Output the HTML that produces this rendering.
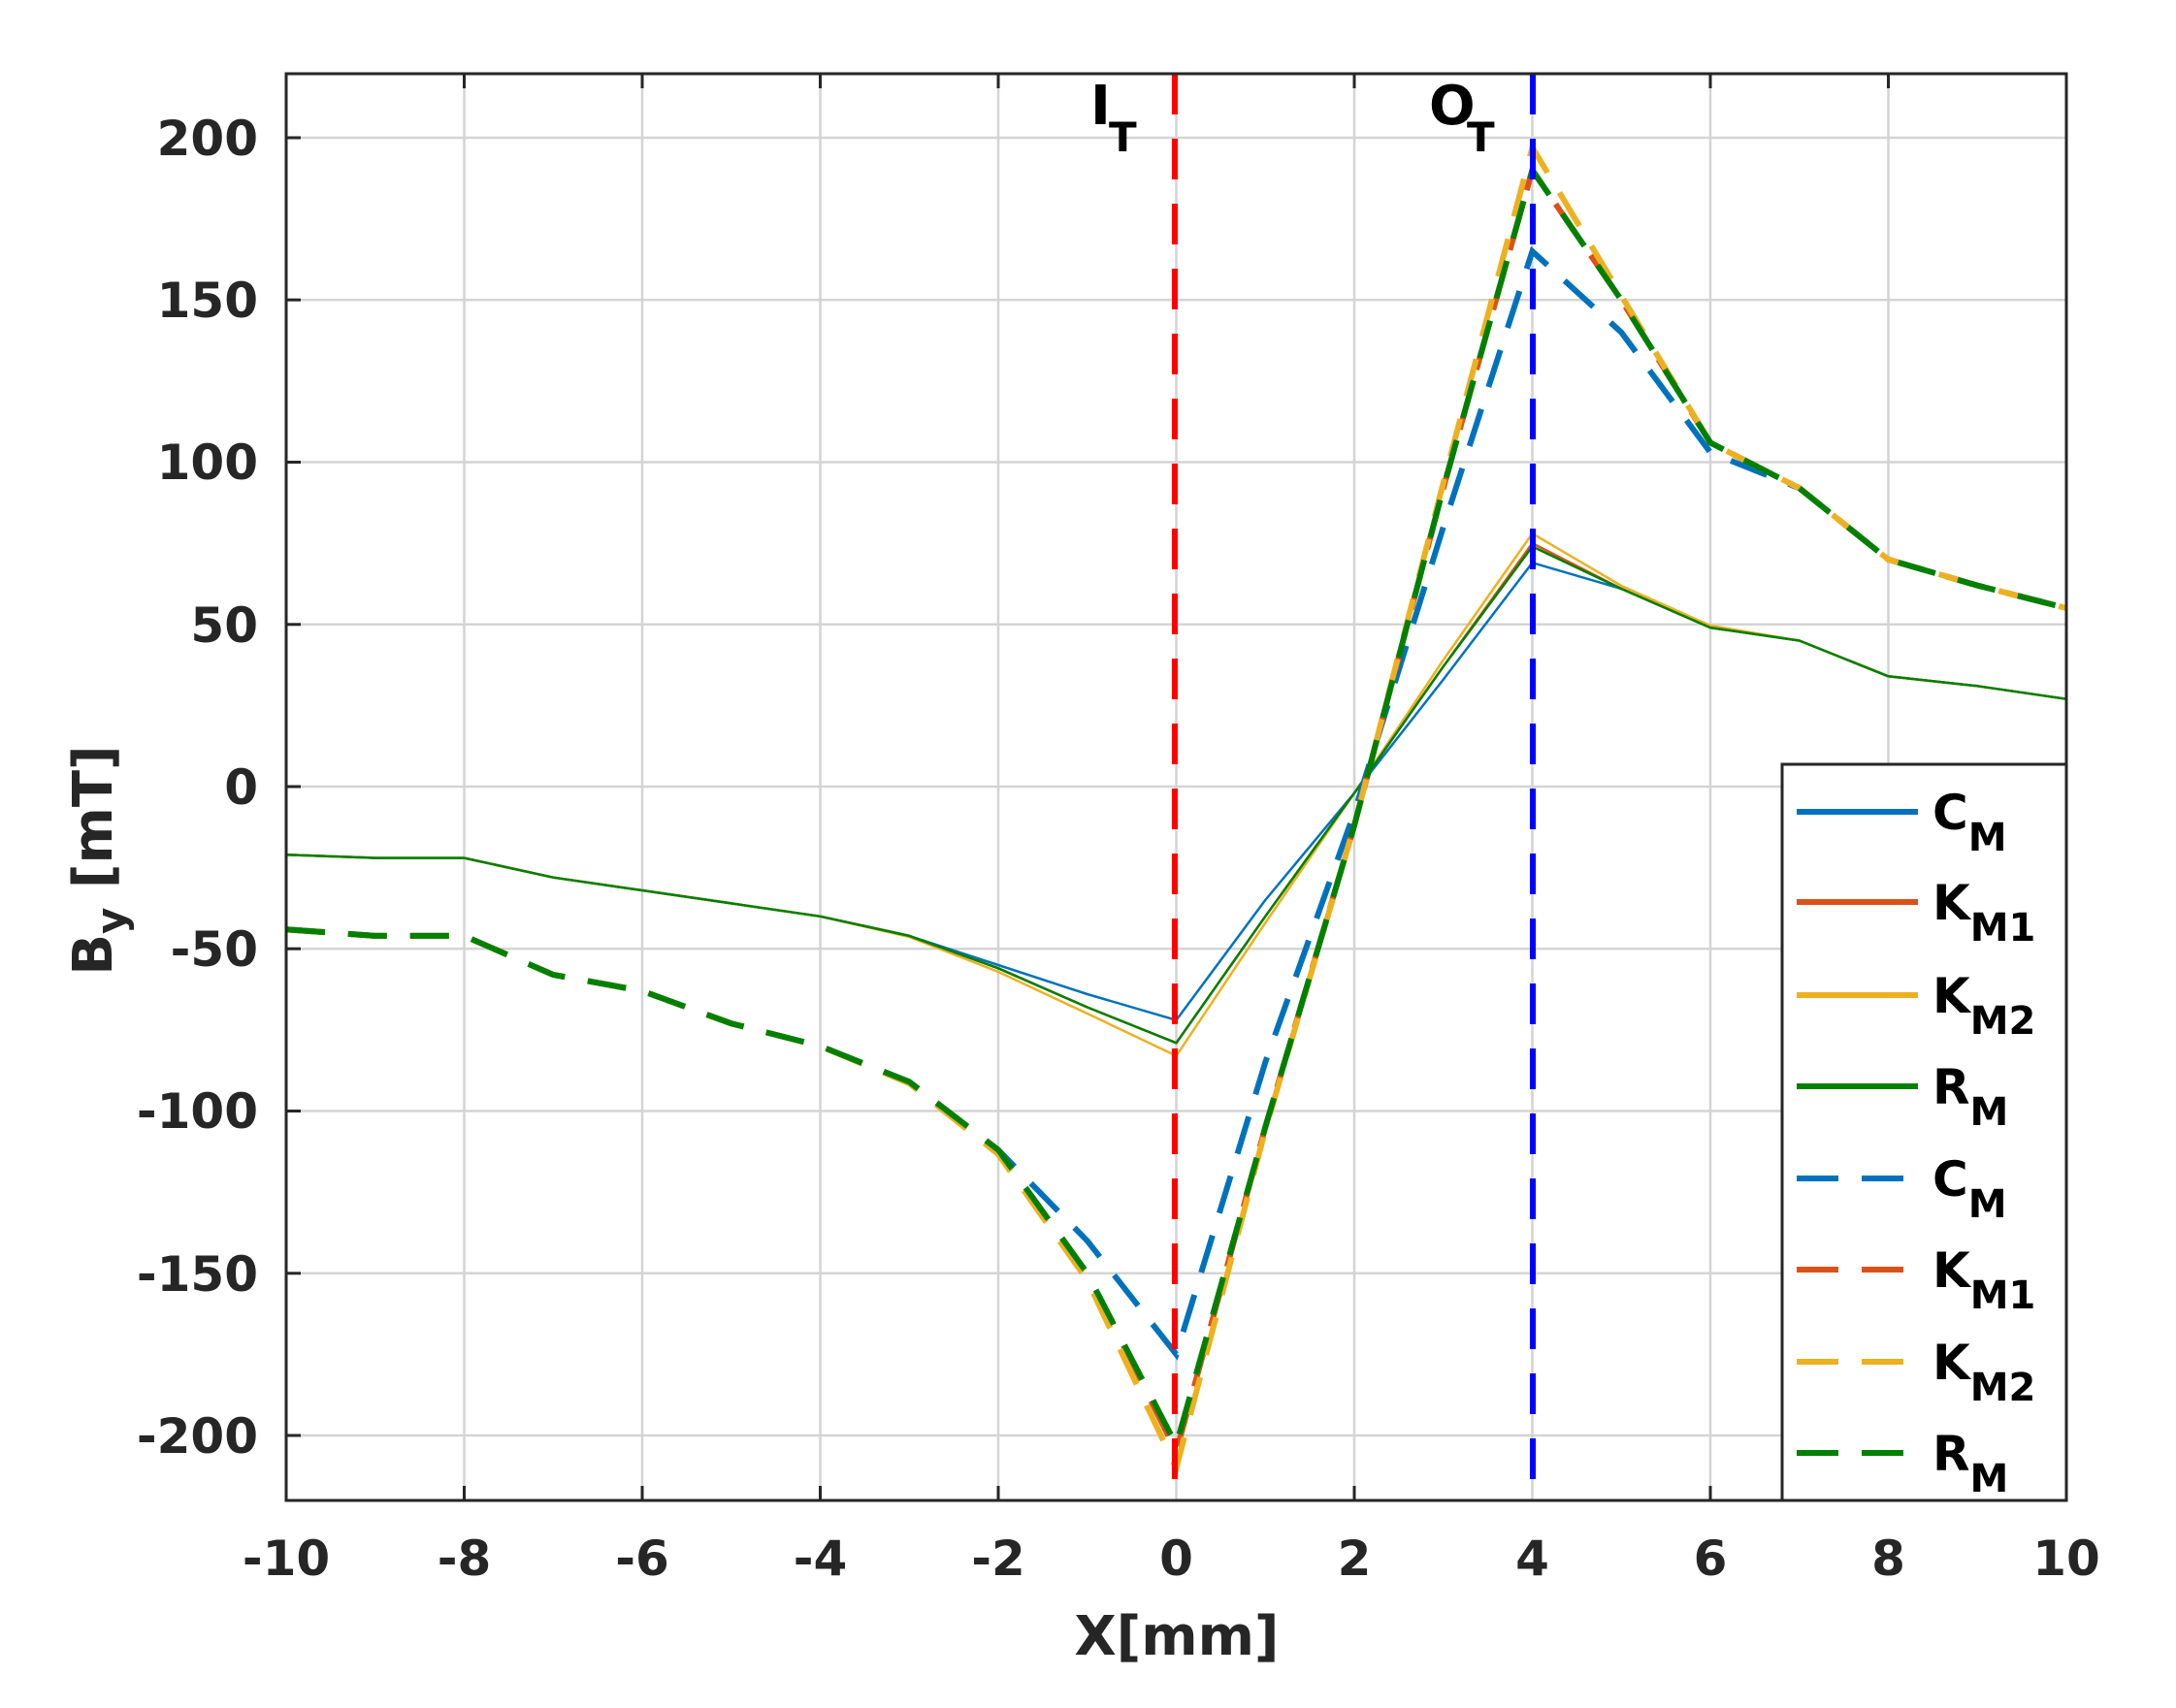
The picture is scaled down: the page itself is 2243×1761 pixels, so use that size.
<!DOCTYPE html>
<html><head><meta charset="utf-8"><style>
html,body{margin:0;padding:0;background:#fff;}
svg{display:block;}
text{font-family:"DejaVu Sans","Liberation Sans",sans-serif;font-weight:bold;fill:#262626;}
</style></head><body>
<svg width="2243" height="1761" viewBox="0 0 2243 1761" xmlns="http://www.w3.org/2000/svg">
<rect width="2243" height="1761" fill="#fff"/>
<!-- grid -->
<g stroke="#d4d4d4" stroke-width="2.5">
<line x1="478.5" y1="76" x2="478.5" y2="1547"/><line x1="662" y1="76" x2="662" y2="1547"/>
<line x1="845.5" y1="76" x2="845.5" y2="1547"/><line x1="1029" y1="76" x2="1029" y2="1547"/>
<line x1="1212.5" y1="76" x2="1212.5" y2="1547"/><line x1="1396" y1="76" x2="1396" y2="1547"/>
<line x1="1579.5" y1="76" x2="1579.5" y2="1547"/><line x1="1763" y1="76" x2="1763" y2="1547"/>
<line x1="1946.5" y1="76" x2="1946.5" y2="1547"/>
<line x1="295" y1="142" x2="2130" y2="142"/><line x1="295" y1="309.2" x2="2130" y2="309.2"/>
<line x1="295" y1="476.5" x2="2130" y2="476.5"/><line x1="295" y1="643.8" x2="2130" y2="643.8"/>
<line x1="295" y1="811" x2="2130" y2="811"/><line x1="295" y1="978.2" x2="2130" y2="978.2"/>
<line x1="295" y1="1145.5" x2="2130" y2="1145.5"/><line x1="295" y1="1312.8" x2="2130" y2="1312.8"/>
<line x1="295" y1="1480" x2="2130" y2="1480"/>
</g>
<!-- solid series -->
<g fill="none" stroke-width="2.5" stroke-linejoin="round">
<polyline stroke="#0072BD" points="295,881.2 386.75,884.6 478.5,884.6 570.25,904.7 662,918 753.75,931.4 845.5,944.8 937.25,964.9 1029,995 1120.75,1025 1212.5,1051.8 1304.25,928 1396,817.7 1487.75,700.6 1579.5,580.2 1671.25,607 1763,647.1 1854.75,660.5 1946.5,697.3 2038.25,707.3 2130,720.7"/>
<polyline stroke="#D95319" points="295,881.2 386.75,884.6 478.5,884.6 570.25,904.7 662,918 753.75,931.4 845.5,944.8 937.25,964.9 1029,998.3 1120.75,1038.5 1212.5,1075.3 1304.25,944.8 1396,817.7 1487.75,687.2 1579.5,560.1 1671.25,607 1763,647.1 1854.75,660.5 1946.5,697.3 2038.25,707.3 2130,720.7"/>
<polyline stroke="#EDB120" points="295,881.2 386.75,884.6 478.5,884.6 570.25,904.7 662,918 753.75,931.4 845.5,944.8 937.25,966 1029,1002 1120.75,1045 1212.5,1088.6 1304.25,951.5 1396,817.7 1487.75,680.5 1579.5,550.1 1671.25,604 1763,645 1854.75,660.5 1946.5,697.3 2038.25,707.3 2130,720.7"/>
<polyline stroke="#008000" points="295,881.2 386.75,884.6 478.5,884.6 570.25,904.7 662,918 753.75,931.4 845.5,944.8 937.25,964.9 1029,998.3 1120.75,1038.5 1212.5,1075.3 1304.25,944.8 1396,817.7 1487.75,687.2 1579.5,563.5 1671.25,607 1763,647.1 1854.75,660.5 1946.5,697.3 2038.25,707.3 2130,720.7"/>
</g>
<!-- dashed series -->
<g fill="none" stroke-width="6" stroke-dasharray="40,24">
<polyline stroke="#0072BD" points="295,958.2 386.75,964.9 478.5,964.9 570.25,1005 662,1021.7 753.75,1055.2 845.5,1078.6 937.25,1115.4 1029,1185.6 1120.75,1279.3 1212.5,1396.4 1304.25,1095.3 1396,837.8 1487.75,543.4 1579.5,259.1 1671.25,342.7 1763,466.5 1854.75,503.3 1946.5,576.9 2038.25,603.6 2130,627"/>
<polyline stroke="#D95319" points="295,958.2 386.75,964.9 478.5,964.9 570.25,1005 662,1021.7 753.75,1055.2 845.5,1078.6 937.25,1115.4 1029,1185.6 1120.75,1312.8 1212.5,1496.7 1304.25,1162.2 1396,851.1 1487.75,503.3 1579.5,175.4 1671.25,309.3 1763,456.4 1854.75,503.3 1946.5,576.9 2038.25,603.6 2130,627"/>
<polyline stroke="#EDB120" points="295,958.2 386.75,964.9 478.5,964.9 570.25,1005 662,1021.7 753.75,1055.2 845.5,1078.6 937.25,1117 1029,1190 1120.75,1320 1212.5,1513.5 1304.25,1165 1396,851.1 1487.75,498 1579.5,152 1671.25,305 1763,456.4 1854.75,503.3 1946.5,576.9 2038.25,603.6 2130,627"/>
<polyline stroke="#008000" points="295,958.2 386.75,964.9 478.5,964.9 570.25,1005 662,1021.7 753.75,1055.2 845.5,1078.6 937.25,1115.4 1029,1185.6 1120.75,1312.8 1212.5,1490 1304.25,1162.2 1396,851.1 1487.75,503.3 1579.5,175.4 1671.25,309.3 1763,456.4 1854.75,503.3 1946.5,576.9 2038.25,603.6 2130,627"/>
</g>
<!-- vertical markers -->
<line x1="1211" y1="76" x2="1211" y2="1547" stroke="#ff0000" stroke-width="6" stroke-dasharray="42,25"/>
<line x1="1580" y1="76" x2="1580" y2="1547" stroke="#0000ff" stroke-width="6" stroke-dasharray="42,25"/>
<text x="1124" y="128" font-size="56" style="fill:#000">I</text>
<text x="1143" y="156" font-size="42" style="fill:#000">T</text>
<text x="1473" y="128" font-size="56" style="fill:#000">O</text>
<text x="1512" y="156" font-size="42" style="fill:#000">T</text>
<!-- axes box -->
<rect x="295" y="76" width="1835" height="1471" fill="none" stroke="#262626" stroke-width="3"/>
<g stroke="#262626" stroke-width="3">
<line x1="478.5" y1="1547" x2="478.5" y2="1532"/><line x1="662" y1="1547" x2="662" y2="1532"/>
<line x1="845.5" y1="1547" x2="845.5" y2="1532"/><line x1="1029" y1="1547" x2="1029" y2="1532"/>
<line x1="1396" y1="1547" x2="1396" y2="1532"/><line x1="1763" y1="1547" x2="1763" y2="1532"/>
<line x1="1946.5" y1="1547" x2="1946.5" y2="1532"/>
<line x1="478.5" y1="76" x2="478.5" y2="91"/><line x1="662" y1="76" x2="662" y2="91"/>
<line x1="845.5" y1="76" x2="845.5" y2="91"/><line x1="1029" y1="76" x2="1029" y2="91"/>
<line x1="1396" y1="76" x2="1396" y2="91"/><line x1="1763" y1="76" x2="1763" y2="91"/>
<line x1="1946.5" y1="76" x2="1946.5" y2="91"/>
<line x1="295" y1="142" x2="310" y2="142"/><line x1="295" y1="309.2" x2="310" y2="309.2"/>
<line x1="295" y1="476.5" x2="310" y2="476.5"/><line x1="295" y1="643.8" x2="310" y2="643.8"/>
<line x1="295" y1="811" x2="310" y2="811"/><line x1="295" y1="978.2" x2="310" y2="978.2"/>
<line x1="295" y1="1145.5" x2="310" y2="1145.5"/><line x1="295" y1="1312.8" x2="310" y2="1312.8"/>
<line x1="295" y1="1480" x2="310" y2="1480"/>
</g>
<!-- tick labels -->
<g font-size="50" text-anchor="end">
<text x="266" y="160">200</text><text x="266" y="327">150</text><text x="266" y="494">100</text>
<text x="266" y="662">50</text><text x="266" y="829">0</text><text x="266" y="996">-50</text>
<text x="266" y="1163">-100</text><text x="266" y="1331">-150</text><text x="266" y="1498">-200</text>
</g>
<g font-size="50" text-anchor="middle">
<text x="295" y="1624">-10</text><text x="478.5" y="1624">-8</text><text x="662" y="1624">-6</text>
<text x="845.5" y="1624">-4</text><text x="1029" y="1624">-2</text><text x="1212.5" y="1624">0</text>
<text x="1396" y="1624">2</text><text x="1579.5" y="1624">4</text><text x="1763" y="1624">6</text>
<text x="1946.5" y="1624">8</text><text x="2130" y="1624">10</text>
</g>
<text x="1213" y="1706" font-size="56" text-anchor="middle">X[mm]</text>
<g transform="translate(115,887) rotate(-90)">
<text x="0" y="0" font-size="56" text-anchor="middle">B<tspan font-size="42" dy="14">y</tspan><tspan dy="-14"> [mT]</tspan></text>
</g>
<!-- legend -->
<rect x="1837" y="788" width="293" height="759" fill="#fff" stroke="#262626" stroke-width="3"/>
<g stroke-width="6">
<line x1="1852" y1="837" x2="1977" y2="837" stroke="#0072BD"/>
<line x1="1852" y1="930" x2="1977" y2="930" stroke="#D95319"/>
<line x1="1852" y1="1026" x2="1977" y2="1026" stroke="#EDB120"/>
<line x1="1852" y1="1120" x2="1977" y2="1120" stroke="#008000"/>
<line x1="1852" y1="1215" x2="1977" y2="1215" stroke="#0072BD" stroke-dasharray="43,24"/>
<line x1="1852" y1="1309" x2="1977" y2="1309" stroke="#D95319" stroke-dasharray="43,24"/>
<line x1="1852" y1="1404" x2="1977" y2="1404" stroke="#EDB120" stroke-dasharray="43,24"/>
<line x1="1852" y1="1498" x2="1977" y2="1498" stroke="#008000" stroke-dasharray="43,24"/>
</g>
<g font-size="50">
<text x="1992" y="855" style="fill:#000">C<tspan font-size="40" dy="22">M</tspan></text>
<text x="1992" y="948" style="fill:#000">K<tspan font-size="40" dy="22">M1</tspan></text>
<text x="1992" y="1044" style="fill:#000">K<tspan font-size="40" dy="22">M2</tspan></text>
<text x="1992" y="1138" style="fill:#000">R<tspan font-size="40" dy="22">M</tspan></text>
<text x="1992" y="1233" style="fill:#000">C<tspan font-size="40" dy="22">M</tspan></text>
<text x="1992" y="1327" style="fill:#000">K<tspan font-size="40" dy="22">M1</tspan></text>
<text x="1992" y="1422" style="fill:#000">K<tspan font-size="40" dy="22">M2</tspan></text>
<text x="1992" y="1516" style="fill:#000">R<tspan font-size="40" dy="22">M</tspan></text>
</g>
</svg>
</body></html>
